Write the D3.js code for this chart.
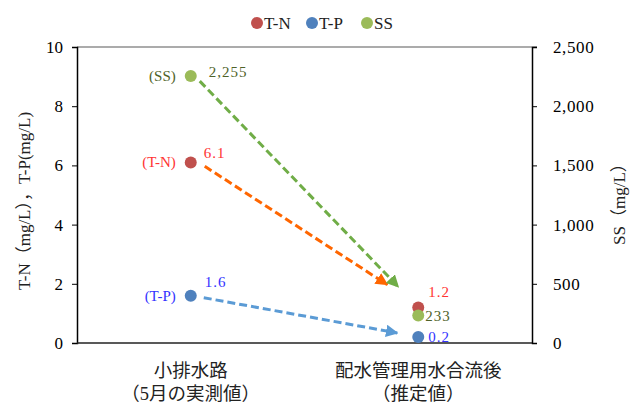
<!DOCTYPE html>
<html><head><meta charset="utf-8">
<script src="https://cdn.jsdelivr.net/npm/d3@7"></script>
<style>
body{margin:0;background:#fff;}
svg text{font-family:"Liberation Serif","Times New Roman","DejaVu Serif","Noto Sans CJK JP",serif !important;}
</style></head>
<body><svg id="c" width="632" height="403"></svg>
<script>
const categories = ["小排水路\n（5月の実測値）", "配水管理用水合流後\n（推定値）"];
const tnValues = [6.1, 1.2];
const tpValues = [1.6, 0.2];
const ssValues = [2255, 233];
const leftTicks = [0, 2, 4, 6, 8, 10];
const rightTicks = [0, 500, 1000, 1500, 2000, 2500];
const seriesNames = ["T-N", "T-P", "SS"];
const seriesColors = ["#C0504D", "#4F81BD", "#9BBB59"];
const labelColors = ["#FF3333", "#3333FF", "#4F6228"];
const arrowColors = ["#FF6600", "#5B9BD5", "#70AD47"];
// arrow annotations (value space): start value at category 0, end value near category 1
const arrowStart = [5.97, 1.53, 2212];
const arrowEnd = [1.97, 0.34, 475];

const W = 632, H = 403;
const m = {l: 77, r: 100, t: 47, b: 60};
const svg = d3.select("#c");
const x = d3.scaleBand().domain(d3.range(categories.length)).range([m.l, W - m.r]);
const yL = d3.scaleLinear().domain([0, 10]).range([H - m.b, m.t]);
const yR = d3.scaleLinear().domain([0, 2500]).range([H - m.b, m.t]);
const cx = i => x(i) + x.bandwidth() / 2;

// top border
svg.append("line").attr("x1", m.l).attr("x2", W - m.r + 5).attr("y1", m.t).attr("y2", m.t)
  .attr("stroke", "#595959").attr("stroke-width", 1.2);

// left axis
const gl = svg.append("g").attr("transform", `translate(${m.l},0)`)
  .call(d3.axisLeft(yL).tickValues(leftTicks).tickSize(5).tickPadding(9));
gl.attr("font-family", null);
gl.select(".domain").attr("stroke", "#000").attr("stroke-width", 1.5);
gl.selectAll(".tick line").attr("stroke", "#000");
gl.selectAll("text").attr("font-size", 17).attr("fill", "#000");

// right axis
const gr = svg.append("g").attr("transform", `translate(${W - m.r},0)`)
  .call(d3.axisRight(yR).tickValues(rightTicks).tickSize(5).tickPadding(16).tickFormat(d3.format(",")));
gr.attr("font-family", null);
gr.select(".domain").attr("stroke", "#000").attr("stroke-width", 1.5);
gr.selectAll(".tick line").attr("stroke", "#000");
gr.selectAll("text").attr("font-size", 17).attr("fill", "#000").attr("letter-spacing", 0.6);

// bottom axis line
svg.append("line").attr("x1", m.l).attr("x2", W - m.r).attr("y1", H - m.b).attr("y2", H - m.b)
  .attr("stroke", "#222").attr("stroke-width", 1.5);

// category labels
categories.forEach((c, i) => {
  const lines = c.split("\n");
  lines.forEach((ln, j) => {
    svg.append("text").attr("x", cx(i)).attr("y", 377 + j * 23)
      .attr("text-anchor", "middle").attr("font-size", 18.5).attr("fill", "#222").text(ln);
  });
});

// axis titles
svg.append("text").attr("transform", `translate(30,${(m.t + H - m.b) / 2 + 6}) rotate(-90)`)
  .attr("text-anchor", "middle").attr("font-size", 17).attr("fill", "#222")
  .text("T-N（mg/L），T-P(mg/L)");
svg.append("text").attr("transform", `translate(625,${(m.t + H - m.b) / 2 + 5}) rotate(-90)`)
  .attr("text-anchor", "middle").attr("font-size", 17).attr("fill", "#222")
  .text("SS（mg/L）");

// arrows
const defs = svg.append("defs");
arrowColors.forEach((col, k) => {
  defs.append("marker").attr("id", "ah" + k).attr("viewBox", "0 0 10 10")
    .attr("refX", 9).attr("refY", 5).attr("markerWidth", 4.2).attr("markerHeight", 4.2)
    .attr("markerUnits", "strokeWidth").attr("orient", "auto")
    .append("path").attr("d", "M0,0 L10,5 L0,10 Z").attr("fill", col);
});
const scales = [yL, yL, yR];
const startDx = [14, 13, 9];
const endDx = [-31, -21, -20];
arrowColors.forEach((col, k) => {
  svg.append("line")
    .attr("x1", cx(0) + startDx[k]).attr("y1", scales[k](arrowStart[k]))
    .attr("x2", cx(1) + endDx[k]).attr("y2", scales[k](arrowEnd[k]))
    .attr("stroke", col).attr("stroke-width", 3).attr("stroke-dasharray", "8,4")
    .attr("marker-end", `url(#ah${k})`);
});

// points
const series = [tnValues, tpValues, ssValues];
series.forEach((vals, k) => {
  svg.selectAll(null).data(vals).enter().append("circle")
    .attr("cx", (d, i) => cx(i)).attr("cy", d => scales[k](d)).attr("r", 6)
    .attr("fill", seriesColors[k]);
});

// data labels
const fmt = [d3.format(".1f"), d3.format(".1f"), d3.format(",")];
const labelDx0 = [13, 14, 18];
const labelDy0 = [-9, -14, -4];
const labelDy1 = [-15, 0, 1];
series.forEach((vals, k) => {
  svg.append("text").attr("x", cx(0) - 15).attr("y", scales[k](vals[0]) + 5)
    .attr("text-anchor", "end").attr("font-size", 15).attr("fill", labelColors[k])
    .text("(" + seriesNames[k] + ")");
  svg.append("text").attr("x", cx(0) + labelDx0[k]).attr("y", scales[k](vals[0]) + 5 + labelDy0[k])
    .attr("font-size", 15).attr("letter-spacing", 1).attr("fill", labelColors[k]).text(fmt[k](vals[0]));
  svg.append("text").attr("x", cx(1) + (k === 2 ? 7 : 10)).attr("y", scales[k](vals[1]) + 5 + labelDy1[k])
    .attr("font-size", 15).attr("letter-spacing", 1).attr("fill", labelColors[k]).text(fmt[k](vals[1]));
});

// legend
const legX = [257, 312, 367];
seriesNames.forEach((n, k) => {
  svg.append("circle").attr("cx", legX[k]).attr("cy", 23).attr("r", 6).attr("fill", seriesColors[k]);
  svg.append("text").attr("x", legX[k] + 7).attr("y", 28.5).attr("font-size", 17).attr("fill", "#222").text(n);
});
</script></body></html>
